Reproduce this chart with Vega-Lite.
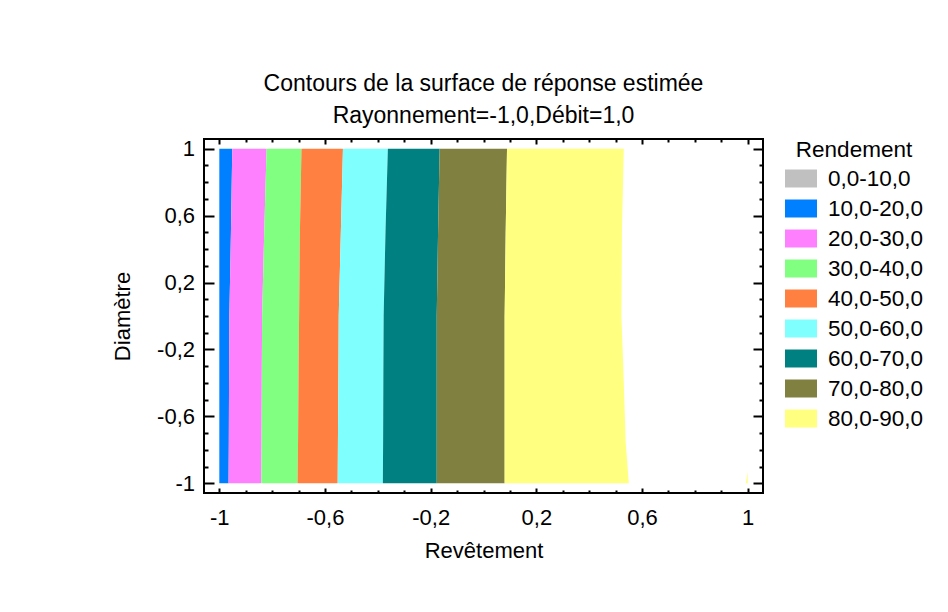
{
  "$schema": "https://vega.github.io/schema/vega-lite/v6.json",
  "width": 559,
  "height": 354,
  "autosize": {"type": "none"},
  "padding": {"left": 204, "top": 139, "right": 185, "bottom": 119},
  "background": "white",
  "title": {
    "text": ["Contours de la surface de réponse estimée", "Rayonnement=-1,0,Débit=1,0"],
    "fontSize": 23, "fontWeight": "normal", "font": "Liberation Sans", "color": "black",
    "lineHeight": 32, "anchor": "middle", "offset": 10
  },
  "data": {"values": [
    {"band": "10,0-20,0", "part": "a1", "y": 1, "xLeft": -1, "xRight": -0.951},
    {"band": "10,0-20,0", "part": "a1", "y": 0.5, "xLeft": -1, "xRight": -0.956},
    {"band": "10,0-20,0", "part": "a1", "y": 0, "xLeft": -1, "xRight": -0.962},
    {"band": "10,0-20,0", "part": "a1", "y": -0.3, "xLeft": -1, "xRight": -0.963},
    {"band": "10,0-20,0", "part": "a1", "y": -0.75, "xLeft": -1, "xRight": -0.964},
    {"band": "10,0-20,0", "part": "a1", "y": -1, "xLeft": -1, "xRight": -0.965},
    {"band": "20,0-30,0", "part": "a2", "y": 1, "xLeft": -0.951, "xRight": -0.821},
    {"band": "20,0-30,0", "part": "a2", "y": 0.5, "xLeft": -0.956, "xRight": -0.830},
    {"band": "20,0-30,0", "part": "a2", "y": 0, "xLeft": -0.962, "xRight": -0.838},
    {"band": "20,0-30,0", "part": "a2", "y": -0.3, "xLeft": -0.963, "xRight": -0.839},
    {"band": "20,0-30,0", "part": "a2", "y": -0.75, "xLeft": -0.964, "xRight": -0.840},
    {"band": "20,0-30,0", "part": "a2", "y": -1, "xLeft": -0.965, "xRight": -0.841},
    {"band": "30,0-40,0", "part": "a3", "y": 1, "xLeft": -0.821, "xRight": -0.689},
    {"band": "30,0-40,0", "part": "a3", "y": 0.5, "xLeft": -0.830, "xRight": -0.695},
    {"band": "30,0-40,0", "part": "a3", "y": 0, "xLeft": -0.838, "xRight": -0.698},
    {"band": "30,0-40,0", "part": "a3", "y": -0.3, "xLeft": -0.839, "xRight": -0.700},
    {"band": "30,0-40,0", "part": "a3", "y": -0.75, "xLeft": -0.840, "xRight": -0.702},
    {"band": "30,0-40,0", "part": "a3", "y": -1, "xLeft": -0.841, "xRight": -0.704},
    {"band": "40,0-50,0", "part": "a4", "y": 1, "xLeft": -0.689, "xRight": -0.532},
    {"band": "40,0-50,0", "part": "a4", "y": 0.5, "xLeft": -0.695, "xRight": -0.540},
    {"band": "40,0-50,0", "part": "a4", "y": 0, "xLeft": -0.698, "xRight": -0.548},
    {"band": "40,0-50,0", "part": "a4", "y": -0.3, "xLeft": -0.700, "xRight": -0.549},
    {"band": "40,0-50,0", "part": "a4", "y": -0.75, "xLeft": -0.702, "xRight": -0.551},
    {"band": "40,0-50,0", "part": "a4", "y": -1, "xLeft": -0.704, "xRight": -0.552},
    {"band": "50,0-60,0", "part": "a5", "y": 1, "xLeft": -0.532, "xRight": -0.362},
    {"band": "50,0-60,0", "part": "a5", "y": 0.5, "xLeft": -0.540, "xRight": -0.371},
    {"band": "50,0-60,0", "part": "a5", "y": 0, "xLeft": -0.548, "xRight": -0.378},
    {"band": "50,0-60,0", "part": "a5", "y": -0.3, "xLeft": -0.549, "xRight": -0.379},
    {"band": "50,0-60,0", "part": "a5", "y": -0.75, "xLeft": -0.551, "xRight": -0.380},
    {"band": "50,0-60,0", "part": "a5", "y": -1, "xLeft": -0.552, "xRight": -0.381},
    {"band": "60,0-70,0", "part": "a6", "y": 1, "xLeft": -0.362, "xRight": -0.166},
    {"band": "60,0-70,0", "part": "a6", "y": 0.5, "xLeft": -0.371, "xRight": -0.172},
    {"band": "60,0-70,0", "part": "a6", "y": 0, "xLeft": -0.378, "xRight": -0.177},
    {"band": "60,0-70,0", "part": "a6", "y": -0.3, "xLeft": -0.379, "xRight": -0.177},
    {"band": "60,0-70,0", "part": "a6", "y": -0.75, "xLeft": -0.380, "xRight": -0.177},
    {"band": "60,0-70,0", "part": "a6", "y": -1, "xLeft": -0.381, "xRight": -0.177},
    {"band": "70,0-80,0", "part": "a7", "y": 1, "xLeft": -0.166, "xRight": 0.089},
    {"band": "70,0-80,0", "part": "a7", "y": 0.5, "xLeft": -0.172, "xRight": 0.084},
    {"band": "70,0-80,0", "part": "a7", "y": 0, "xLeft": -0.177, "xRight": 0.080},
    {"band": "70,0-80,0", "part": "a7", "y": -0.3, "xLeft": -0.177, "xRight": 0.080},
    {"band": "70,0-80,0", "part": "a7", "y": -0.75, "xLeft": -0.177, "xRight": 0.080},
    {"band": "70,0-80,0", "part": "a7", "y": -1, "xLeft": -0.177, "xRight": 0.080},
    {"band": "80,0-90,0", "part": "a8", "y": 1, "xLeft": 0.089, "xRight": 0.531},
    {"band": "80,0-90,0", "part": "a8", "y": 0.5, "xLeft": 0.084, "xRight": 0.524},
    {"band": "80,0-90,0", "part": "a8", "y": 0, "xLeft": 0.080, "xRight": 0.522},
    {"band": "80,0-90,0", "part": "a8", "y": -0.3, "xLeft": 0.080, "xRight": 0.529},
    {"band": "80,0-90,0", "part": "a8", "y": -0.75, "xLeft": 0.080, "xRight": 0.538},
    {"band": "80,0-90,0", "part": "a8", "y": -1, "xLeft": 0.080, "xRight": 0.550},
    {"band": "80,0-90,0", "part": "b8", "y": -0.93, "xLeft": 1.0, "xRight": 1.0},
    {"band": "80,0-90,0", "part": "b8", "y": -1, "xLeft": 0.993, "xRight": 1.0}
  ]},
  "layer": [
    {
      "mark": {"type": "area", "orient": "horizontal", "opacity": 1},
      "encoding": {
        "y": {
          "field": "y", "type": "quantitative",
          "scale": {"domain": [-1.058, 1.058], "nice": false, "zero": false},
          "axis": {
            "orient": "left",
            "values": [-1, -0.9, -0.8, -0.7, -0.6, -0.5, -0.4, -0.3, -0.2, -0.1, 0, 0.1, 0.2, 0.3, 0.4, 0.5, 0.6, 0.7, 0.8, 0.9, 1],
            "format": ".1~f",
            "labelExpr": "indexof([-1,-0.6,-0.2,0.2,0.6,1], datum.value) >= 0 ? datum.label : ''",
            "tickSize": {"condition": {"test": "indexof([-1,-0.6,-0.2,0.2,0.6,1], datum.value) >= 0", "value": -10}, "value": -4},
            "tickWidth": 2, "tickColor": "black", "domain": false, "grid": false,
            "labelFont": "Liberation Sans", "labelFontSize": 22, "labelColor": "black", "labelPadding": 19.5,
            "labelOverlap": false, "labelFlush": false,
            "title": "Diamètre", "titleFont": "Liberation Sans", "titleFontSize": 22, "titleFontWeight": "normal",
            "titleColor": "black", "titlePadding": 22
          }
        },
        "x": {
          "field": "xLeft", "type": "quantitative", "stack": null,
          "scale": {"domain": [-1.058, 1.058], "nice": false, "zero": false},
          "axis": {
            "orient": "bottom",
            "values": [-1, -0.9, -0.8, -0.7, -0.6, -0.5, -0.4, -0.3, -0.2, -0.1, 0, 0.1, 0.2, 0.3, 0.4, 0.5, 0.6, 0.7, 0.8, 0.9, 1],
            "format": ".1~f",
            "labelExpr": "indexof([-1,-0.6,-0.2,0.2,0.6,1], datum.value) >= 0 ? datum.label : ''",
            "tickSize": {"condition": {"test": "indexof([-1,-0.6,-0.2,0.2,0.6,1], datum.value) >= 0", "value": -5}, "value": -3},
            "tickWidth": 2, "tickColor": "black", "domain": false, "grid": false,
            "labelFont": "Liberation Sans", "labelFontSize": 22, "labelColor": "black", "labelPadding": 19.5,
            "labelOverlap": false, "labelFlush": false,
            "title": "Revêtement", "titleFont": "Liberation Sans", "titleFontSize": 22, "titleFontWeight": "normal",
            "titleColor": "black", "titlePadding": 10
          }
        },
        "x2": {"field": "xRight"},
        "color": {
          "field": "band", "type": "nominal",
          "scale": {
            "domain": ["0,0-10,0", "10,0-20,0", "20,0-30,0", "30,0-40,0", "40,0-50,0", "50,0-60,0", "60,0-70,0", "70,0-80,0", "80,0-90,0"],
            "range": ["#C0C0C0", "#0080FF", "#FF80FF", "#80FF80", "#FF8040", "#80FFFF", "#008080", "#808040", "#FFFF80"]
          },
          "legend": {
            "title": "Rendement", "orient": "right", "offset": 21, "padding": 0,
            "titleFont": "Liberation Sans", "titleFontSize": 22.5, "titleFontWeight": "normal", "titleColor": "black",
            "titleAnchor": "middle", "titlePadding": 1,
            "labelFont": "Liberation Sans", "labelFontSize": 22.5, "labelColor": "black", "labelOffset": 11, "labelLimit": 300,
            "symbolType": "M-1,-0.5625H1V0.5625H-1Z", "symbolSize": 1024, "symbolStrokeWidth": 0, "symbolOpacity": 1,
            "rowPadding": 2
          }
        },
        "detail": {"field": "part"}
      }
    },
    {
      "mark": {"type": "point", "opacity": 0},
      "encoding": {
        "x": {
          "field": "xLeft", "type": "quantitative",
          "axis": {
            "orient": "top",
            "values": [-1, -0.9, -0.8, -0.7, -0.6, -0.5, -0.4, -0.3, -0.2, -0.1, 0, 0.1, 0.2, 0.3, 0.4, 0.5, 0.6, 0.7, 0.8, 0.9, 1],
            "labels": false, "title": null, "domain": false, "grid": false,
            "tickSize": {"condition": {"test": "indexof([-1,-0.6,-0.2,0.2,0.6,1], datum.value) >= 0", "value": -5}, "value": -3},
            "tickWidth": 2, "tickColor": "black"
          }
        },
        "y": {
          "field": "y", "type": "quantitative",
          "axis": {
            "orient": "right",
            "values": [-1, -0.9, -0.8, -0.7, -0.6, -0.5, -0.4, -0.3, -0.2, -0.1, 0, 0.1, 0.2, 0.3, 0.4, 0.5, 0.6, 0.7, 0.8, 0.9, 1],
            "labels": false, "title": null, "domain": false, "grid": false,
            "tickSize": {"condition": {"test": "indexof([-1,-0.6,-0.2,0.2,0.6,1], datum.value) >= 0", "value": -10}, "value": -4},
            "tickWidth": 2, "tickColor": "black"
          }
        }
      }
    }
  ],
  "resolve": {"axis": {"x": "independent", "y": "independent"}},
  "config": {
    "font": "Liberation Sans",
    "view": {"stroke": "black", "strokeWidth": 2},
    "locale": {"number": {"decimal": ",", "thousands": " ", "grouping": [3], "currency": ["", ""], "minus": "-"}}
  }
}
